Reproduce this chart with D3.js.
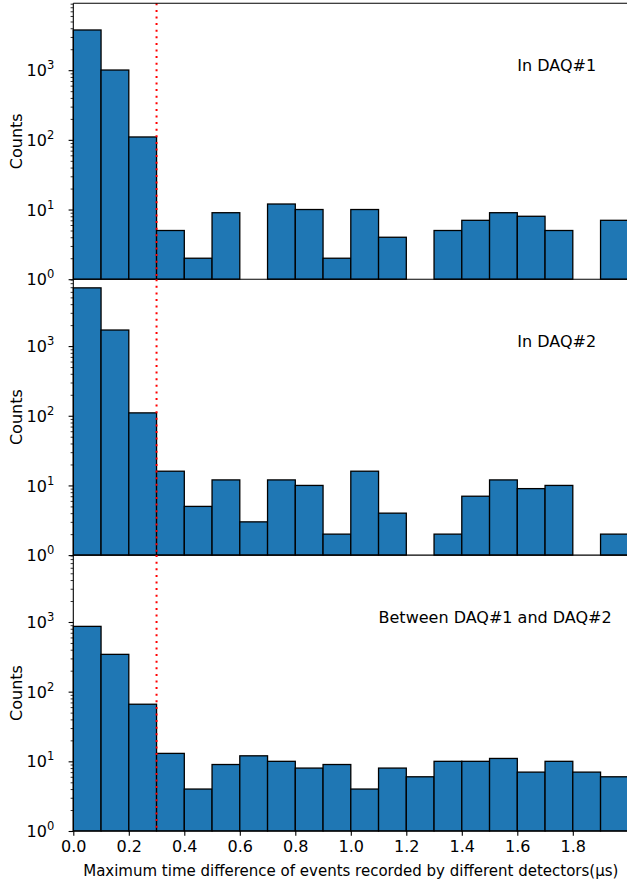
<!DOCTYPE html>
<html>
<head>
<meta charset="utf-8">
<script src="https://cdn.jsdelivr.net/npm/d3@7"></script>
<style>
  body { margin: 0; background: #fff; }
  svg { display: block; font-family: "DejaVu Sans", sans-serif; }
</style>
</head>
<body>
<div id="chart"></div>
<script>
// bin left edges (µs), bin width 0.1
var binStarts = [0.0, 0.1, 0.2, 0.3, 0.4, 0.5, 0.6, 0.7, 0.8, 0.9,
                 1.0, 1.1, 1.2, 1.3, 1.4, 1.5, 1.6, 1.7, 1.8, 1.9];
var binWidth = 0.1;

// counts per bin (0 = empty bin)
var countsDaq1 = [3775, 1005, 110, 5, 2, 9, 0, 12, 10, 2, 10, 4, 0, 5, 7, 9, 8, 5, 0, 7];
var countsDaq2 = [6850, 1700, 110, 16, 5, 12, 3, 12, 10, 2, 16, 4, 0, 2, 7, 12, 9, 10, 0, 2];
var countsBetween = [865, 343, 66, 13, 4, 9, 12, 10, 8, 9, 4, 8, 6, 10, 10, 11, 7, 10, 7, 6];

var panelLabels = ["In DAQ#1", "In DAQ#2", "Between DAQ#1 and DAQ#2"];
var labelX = [1.6, 1.6, 1.1];

var xTicks = [0.0, 0.2, 0.4, 0.6, 0.8, 1.0, 1.2, 1.4, 1.6, 1.8];
var yMajor = [1, 10, 100, 1000];
var cut = 0.3;

var panels = [countsDaq1, countsDaq2, countsBetween];

var W = 627, H = 882;
var marginLeft = 73.3, marginTop = 3.3;
var plotW = 555;          // x range 0..2 (right edge runs off the page)
var panelH = 275.9;

var svg = d3.select("#chart").append("svg")
  .attr("width", W).attr("height", H);

var x = d3.scaleLinear().domain([0, 2]).range([marginLeft, marginLeft + plotW]);

var yMax = Math.pow(10, 3.96);
var yMinor = [];
[1, 10, 100, 1000].forEach(function (d) {
  for (var k = 2; k <= 9; k++) if (k * d < yMax) yMinor.push(k * d);
});

panels.forEach(function (counts, i) {
  var y0 = marginTop + i * panelH;
  var y = d3.scaleLog().domain([1, yMax]).range([y0 + panelH, y0]);

  var g = svg.append("g");

  // bars
  var data = binStarts.map(function (b, j) { return { x0: b, v: counts[j] }; })
    .filter(function (d) { return d.v > 0; });
  g.selectAll("rect")
    .data(data)
    .enter().append("rect")
      .attr("x", function (d) { return x(d.x0); })
      .attr("y", function (d) { return y(d.v); })
      .attr("width", function (d) { return x(d.x0 + binWidth) - x(d.x0); })
      .attr("height", function (d) { return y(1) - y(d.v); })
      .attr("fill", "#1f77b4")
      .attr("stroke", "#000")
      .attr("stroke-width", 1.3);

  // cut line
  g.append("line")
    .attr("x1", x(cut)).attr("x2", x(cut))
    .attr("y1", y0).attr("y2", y0 + panelH)
    .attr("stroke", "red")
    .attr("stroke-width", 2)
    .attr("stroke-dasharray", "2,4.6");

  // y axis: major ticks with 10^n labels
  var yAxis = g.append("g")
    .attr("transform", "translate(" + marginLeft + ",0)")
    .call(d3.axisLeft(y).tickValues(yMajor).tickSize(4.7).tickPadding(4.5)
      .tickFormat(function () { return ""; }));
  yAxis.select(".domain").remove();
  yAxis.selectAll(".tick line").attr("stroke", "#000").attr("stroke-width", 1.1);
  yAxis.selectAll(".tick text").each(function (d) {
    var t = d3.select(this)
      .attr("font-size", 16)
      .attr("font-family", "DejaVu Sans")
      .attr("fill", "#000")
      .attr("x", -19)
      .attr("dy", "0.35em");
    t.append("tspan").text("10");
    t.append("tspan")
      .attr("font-size", 11.5)
      .attr("dy", -7)
      .text(Math.round(Math.log10(d)));
  });

  // minor ticks
  var yMin = g.append("g")
    .attr("transform", "translate(" + marginLeft + ",0)")
    .call(d3.axisLeft(y).tickValues(yMinor).tickSize(2.7).tickFormat(""));
  yMin.select(".domain").remove();
  yMin.selectAll(".tick line").attr("stroke", "#000").attr("stroke-width", 0.8);

  // spines
  g.append("line")
    .attr("x1", marginLeft).attr("x2", marginLeft)
    .attr("y1", y0).attr("y2", y0 + panelH)
    .attr("stroke", "#000").attr("stroke-width", 1.1);
  g.append("line")
    .attr("x1", marginLeft).attr("x2", W)
    .attr("y1", y0 + panelH).attr("y2", y0 + panelH)
    .attr("stroke", "#000").attr("stroke-width", 1.1);
  if (i === 0) {
    g.append("line")
      .attr("x1", marginLeft).attr("x2", W)
      .attr("y1", y0).attr("y2", y0)
      .attr("stroke", "#000").attr("stroke-width", 1.1);
  }

  // panel label
  g.append("text")
    .attr("x", x(labelX[i]))
    .attr("y", y(1000) + 1)
    .attr("font-size", 16)
    .attr("fill", "#000")
    .text(panelLabels[i]);

  // y label
  g.append("text")
    .attr("transform", "translate(22," + (y0 + panelH / 2) + ") rotate(-90)")
    .attr("text-anchor", "middle")
    .attr("font-size", 16)
    .attr("fill", "#000")
    .text("Counts");
});

// x axis on bottom panel only
var bottom = marginTop + 3 * panelH;
var xAxis = svg.append("g")
  .attr("transform", "translate(0," + bottom + ")")
  .call(d3.axisBottom(x).tickValues(xTicks).tickSize(4.7).tickPadding(4.5)
    .tickFormat(d3.format(".1f")));
xAxis.select(".domain").remove();
xAxis.selectAll(".tick line").attr("stroke", "#000").attr("stroke-width", 1.1);
xAxis.selectAll(".tick text")
  .attr("font-size", 16)
  .attr("font-family", "DejaVu Sans")
  .attr("fill", "#000");

svg.append("text")
  .attr("x", x(1.0))
  .attr("y", bottom + 45)
  .attr("text-anchor", "middle")
  .attr("font-size", 15)
  .attr("fill", "#000")
  .text("Maximum time difference of events recorded by different detectors(μs)");
</script>
</body>
</html>
